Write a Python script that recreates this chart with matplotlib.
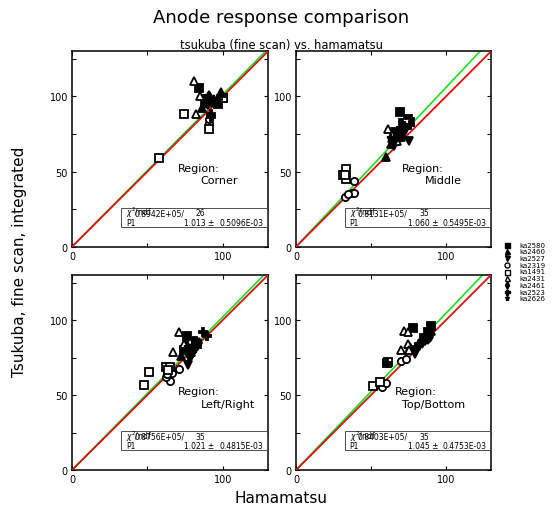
import matplotlib
matplotlib.use("Agg")
import matplotlib.pyplot as plt
from matplotlib.patches import Rectangle

# ---------------- data ----------------
series = ["ka2580", "ka2460", "ka2527", "ka2319", "ka1491",
          "ka2431", "ka2461", "ka2523", "ka2626"]
regions = ["Corner", "Middle", "Left/Right", "Top/Bottom"]
p1 = [1.013, 1.060, 1.021, 1.045]
p1_err = ["0.5096E-03", "0.5495E-03", "0.4815E-03", "0.4753E-03"]
chi2 = ["0.8942E+05", "0.8131E+05", "0.8756E+05", "0.8403E+05"]
ndf = [26, 35, 35, 35]

corner_x = [[84, 97, 88, 100], [86, 88, 99, 92], [89, 95, 90], [91, 91],
            [58, 74, 91, 100], [81, 85, 82], [91, 93, 96], [92, 99, 92], [88, 94]]
corner_y = [[105.5, 95, 97, 99], [92, 96, 103, 97], [98, 95, 94], [82, 85],
            [59, 88, 78, 99], [110, 100, 88], [100, 96, 97], [88, 100, 86], [94, 98]]

middle_x = [[69.5, 74.5, 71, 76, 66], [60, 64, 66, 63, 70], [75, 68, 72, 65],
            [32.5, 37, 38.5, 38.5, 34.5], [33.5, 31.5, 33.5, 32.5, 74],
            [61, 64, 67], [66, 70, 73], [68, 72, 76], [63, 71, 69]]
middle_y = [[89.8, 85, 82, 83, 76], [60, 72, 74, 68, 73], [70, 72, 76, 67],
            [33, 36, 36, 43.5, 35], [52, 47.5, 45, 48, 82],
            [78, 74, 70], [71, 77, 79], [73, 80, 81], [72, 75, 79]]

leftright_x = [[76, 78, 80, 74, 83], [75, 79, 81, 72], [77, 78, 80, 76],
               [65, 62.5, 71, 66, 63], [51, 47.5, 62.5, 65, 63.5],
               [71, 67, 74, 78], [78, 82, 84], [87, 89.5, 80, 76], [77, 81]]
leftright_y = [[89.5, 83, 86, 80, 84], [81, 79, 83, 76], [70, 74, 78, 79],
               [59.5, 62, 67.6, 65, 64], [65.5, 57, 68.7, 69, 67],
               [92, 78.5, 84, 85.5], [81, 82, 85], [92, 89.5, 82, 80], [82, 80]]

topbottom_x = [[78.3, 90, 88, 85], [90, 76, 82, 87], [79, 84, 86, 88],
               [70, 57.5, 60, 73], [51.3, 55.8, 60.6, 61.5],
               [72.3, 74.6, 70, 74.6, 75], [86, 89, 84], [60.6, 88, 80], [81, 87]]
topbottom_y = [[94.7, 96.3, 92, 88], [93, 82, 85, 90], [77.5, 84, 86, 87],
               [72.7, 55.5, 57.7, 74], [56, 58.8, 71.4, 72],
               [93, 92, 79.7, 83.7, 80], [87, 89, 86], [71.4, 90, 82], [82, 88]]

region_x = [corner_x, middle_x, leftright_x, topbottom_x]
region_y = [corner_y, middle_y, leftright_y, topbottom_y]

# ---------------- styles ----------------
markers = ['s', '^', 'v', 'o', 's', '^', 'd', 'P', '*']
filled = [True, True, True, False, False, False, True, True, True]
msizes = [5.2, 5.5, 5.5, 5.2, 5.5, 6, 4.8, 6.2, 6]

W, H = 555, 510
fig = plt.figure(figsize=(W / 100, H / 100), dpi=100)
plt.rcParams['font.family'] = ['DejaVu Sans']

# panel pixel boxes (left, top, right, bottom)
boxes = [(72, 52.3, 268, 247.7), (296, 52.3, 491, 247.7),
         (72, 276, 268, 471), (296, 276, 491, 471)]
LIM = 130

region_text_x = [70.3, 70.8, 70.4, 65.7]
region_sub_x = [85, 85.6, 85.3, 70.8]

for i, (l, t, r, b) in enumerate(boxes):
    ax = fig.add_axes([l / W, (H - b) / H, (r - l) / W, (b - t) / H])
    ax.set_xlim(0, LIM)
    ax.set_ylim(0, LIM)
    for s in ax.spines.values():
        s.set_linewidth(1.1)
    ax.set_xticks([0, 100])
    ax.set_xticks([50], minor=True)
    ax.set_yticks([0, 50, 100])
    ax.set_yticks([25, 75, 125], minor=True)
    ax.tick_params(which='both', direction='in', top=True, right=True,
                   length=3, width=0.8, labelsize=7, pad=3)
    # fit lines
    ax.plot([0, LIM], [0, p1[i] * LIM], color='#1ee01e', lw=1.2, zorder=2)
    ax.plot([0, LIM], [0, LIM], color='#e01010', lw=1.3, zorder=3)
    # points
    for k in range(len(series)):
        xs = region_x[i][k]
        ys = region_y[i][k]
        ax.plot(xs, ys, linestyle='none', marker=markers[k], ms=msizes[k],
                mfc='black' if filled[k] else 'white', mec='black',
                mew=1.3, zorder=4, clip_on=False)
    # region label
    ax.text(region_text_x[i], 52.5, "Region:", fontsize=8, va='center', ha='left')
    ax.text(region_sub_x[i], 44.3, regions[i], fontsize=8, va='center', ha='left')
    # fit box
    ax.add_patch(Rectangle((32.7, 13.2), 129.3 - 32.7, 25.8 - 13.2,
                           facecolor='white', edgecolor='0.3', lw=0.7, zorder=5))
    ax.text(35.8, 22.9, r"$\chi^2$/ndf", fontsize=5.5, va='center', ha='left', zorder=6)
    ax.text(41.3, 22.6, chi2[i] + "/", fontsize=5.5, va='center', ha='left', zorder=6)
    ax.text(82, 22.6, str(ndf[i]), fontsize=5.5, va='center', ha='left', zorder=6)
    ax.text(35.8, 16.0, "P1", fontsize=5.5, va='center', ha='left', zorder=6)
    ax.text(74.5, 16.0, "%.3f \u00b1" % p1[i], fontsize=5.5, va='center', ha='left', zorder=6)
    ax.text(127, 16.0, p1_err[i], fontsize=5.5, va='center', ha='right', zorder=6)

# legend
lax = fig.add_axes([495 / W, (H - 305) / H, 60 / W, 65 / H])
lax.set_xlim(495, 555)
lax.set_ylim(305, 240)
lax.axis('off')
for k, name in enumerate(series):
    yy = 245.7 + k * 6.7
    lax.plot([506.7], [yy], linestyle='none', marker=markers[k], ms=3.6,
             mfc='black' if filled[k] else 'white', mec='black', mew=1.0)
    lax.text(519, yy, name, fontsize=5, va='center', ha='left')

# titles and axis labels
fig.text(281.5 / W, 1 - 17.7 / H, "Anode response comparison", fontsize=13,
         ha='center', va='center')
fig.text(281.5 / W, 1 - 45 / H, "tsukuba (fine scan) vs. hamamatsu", fontsize=8.3,
         ha='center', va='center')
fig.text(20 / W, 1 - 262 / H, "Tsukuba, fine scan, integrated", fontsize=11,
         rotation=90, ha='center', va='center')
fig.text(281.5 / W, 1 - 499 / H, "Hamamatsu", fontsize=11, ha='center', va='center')

fig.savefig("out.png", dpi=100)
